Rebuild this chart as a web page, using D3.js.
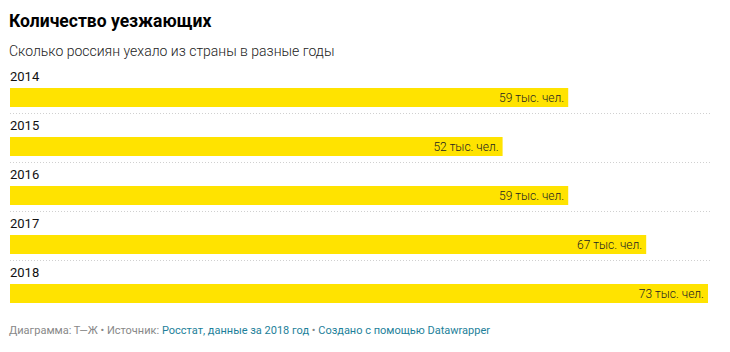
<!DOCTYPE html>
<html>
<head>
<meta charset="utf-8">
<script src="https://cdn.jsdelivr.net/npm/d3@7"></script>
<style>
  body { margin: 0; background: #fff; font-family: Roboto, "Noto Sans", sans-serif; }
</style>
</head>
<body>
<div id="chart"></div>
<script>
const width = 730;
const height = 352;
const margins = { left: 10, right: 22, top: 88 };
const rowStep = 49;
const barHeight = 19;

const years = ['2014', '2015', '2016', '2017', '2018'];
const emigrants = [58.7, 51.8, 58.7, 66.9, 73.4]; // тыс. чел.

const svg = d3.select('#chart')
    .append('svg')
    .attr('width', width)
    .attr('height', height);

// header
svg.append('text')
    .attr('x', 9)
    .attr('y', 27)
    .style('font-size', '17.5px')
    .style('font-weight', 'bold')
    .style('fill', '#000')
    .text('Количество уезжающих');

svg.append('text')
    .attr('x', 9)
    .attr('y', 56)
    .style('font-size', '14px')
    .style('font-weight', 300)
    .style('fill', '#222')
    .text('Сколько россиян уехало из страны в разные годы');

// scales
const x = d3.scaleLinear()
    .domain([0, d3.max(emigrants)])
    .range([margins.left, width - margins.right]);

const y = d3.scaleBand()
    .domain(years)
    .range([margins.top, margins.top + rowStep * years.length]);

const rows = svg.append('g')
    .selectAll('g')
    .data(years)
    .enter()
    .append('g');

rows.append('text')
    .attr('x', 10)
    .attr('y', d => y(d) - 7)
    .style('font-size', '13px')
    .style('fill', '#111')
    .text(d => d);

rows.append('rect')
    .attr('x', x(0))
    .attr('y', d => y(d))
    .attr('width', (d, i) => x(emigrants[i]) - x(0))
    .attr('height', barHeight)
    .attr('fill', '#ffe300');

rows.append('text')
    .attr('x', (d, i) => x(emigrants[i]) - 4)
    .attr('y', d => y(d) + 14)
    .attr('text-anchor', 'end')
    .style('font-size', '12px')
    .style('font-weight', 300)
    .style('fill', '#222')
    .text((d, i) => `${d3.format('.0f')(emigrants[i])} тыс. чел.`);

// dotted separators
rows.filter((d, i) => i < years.length - 1)
    .append('line')
    .attr('x1', 10)
    .attr('x2', 712)
    .attr('y1', d => y(d) + barHeight + 6.5)
    .attr('y2', d => y(d) + barHeight + 6.5)
    .attr('stroke', '#d0d0d0')
    .attr('stroke-width', 1)
    .attr('stroke-dasharray', '1,2');

// footer
const footer = svg.append('text')
    .attr('x', 9)
    .attr('y', 334)
    .style('font-size', '11px')
    .style('fill', '#888');

footer.append('tspan').text('Диаграмма: Т—Ж • Источник: ');
footer.append('tspan').style('fill', '#1d7f9a').text('Росстат, данные за 2018 год');
footer.append('tspan').text(' • ');
footer.append('tspan').style('fill', '#1d7f9a').text('Создано с помощью Datawrapper');
</script>
</body>
</html>
